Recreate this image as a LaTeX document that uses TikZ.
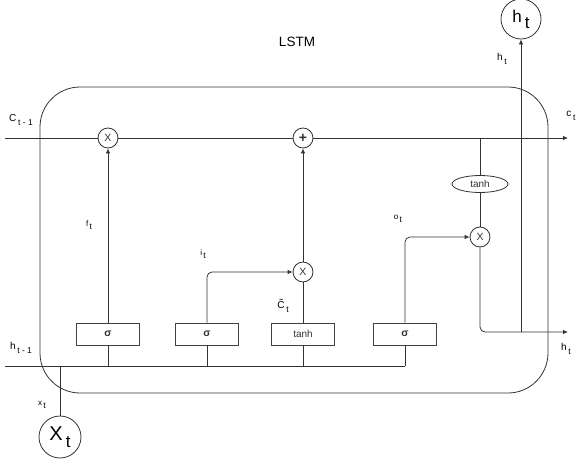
\documentclass[tikz,border=0pt]{standalone}
\usepackage{fontspec}
\setmainfont{Liberation Sans}
\usetikzlibrary{arrows.meta,shapes.geometric}
\newcommand\sublbl[2]{#1\,\raisebox{-3.5pt}{\fontsize{8.5}{9}\selectfont #2}}
\begin{document}
\begin{tikzpicture}[x=1pt,y=-1pt,line width=0.8pt,color=black!80,
  gate/.style={draw=black!75,rectangle,minimum width=63pt,minimum height=22pt,inner sep=0pt,font=\fontsize{10}{12}\selectfont},
  op/.style={draw=black!80,circle,minimum size=20pt,inner sep=0pt,font=\fontsize{10.5}{12}\selectfont,fill=white},
  lbl/.style={inner sep=0pt,text=black,font=\fontsize{10}{11}\selectfont},
  arr/.style={-{Latex[length=5pt,width=4.5pt]}}]
\useasboundingbox (0,0) rectangle (582,463);
% cell outline
\draw[rounded corners=40pt] (40,87) rectangle (548,393);
\node[text=black,font=\fontsize{13.5}{15}\selectfont] (title) at (297,42) {LSTM};
% nodes
\coordinate (cin) at (5,138);
\coordinate (cout) at (568,138);
\node[op] (fx) at (108,138) {X};
\node[op,font=\fontsize{14}{14}\selectfont\bfseries] (plus) at (303,138) {+};
\node[draw=black!80,ellipse,minimum width=56pt,minimum height=17pt,inner sep=0pt,font=\fontsize{10}{12}\selectfont,fill=white] (th) at (480,184) {tanh};
\node[op] (ox) at (480,237) {X};
\node[op] (ix) at (303,272) {X};
\node[gate,font=\fontsize{10.5}{12}\selectfont\bfseries] (g1) at (108,334) {σ};
\node[gate,font=\fontsize{10.5}{12}\selectfont\bfseries] (g2) at (207,334) {σ};
\node[gate] (g3) at (303,334) {tanh};
\node[gate,font=\fontsize{10.5}{12}\selectfont\bfseries] (g4) at (405,334) {σ};
\node[draw=black!80,circle,minimum size=40pt,inner sep=0pt,fill=white,text=black] (ht) at (521,19) {\fontsize{17}{18}\selectfont h\,\raisebox{-6pt}{\fontsize{17}{18}\selectfont t}};
\node[draw=black!80,circle,minimum size=42pt,inner sep=0pt,text=black] (xt) at (60,437) {\fontsize{20}{21}\selectfont X\,\raisebox{-7pt}{\fontsize{17}{18}\selectfont t}};
\coordinate (hin) at (5,366);
\coordinate (hend) at (405,366);
\coordinate (hout) at (568,332);
\coordinate (hsplit) at (521,332);
\coordinate (csplit) at (480,138);
\coordinate (xsplit) at (60,366);
% cell state line
\draw (cin) -- (fx.west);
\draw (fx.east) -- (plus.west);
\draw[arr] (plus.east) -- (cout);
% output branch
\draw (csplit) -- (th.north);
\draw (th.south) -- (ox.north);
\draw[arr,rounded corners=5pt] (ox.south) |- (hout);
\draw[arr] (hsplit) -- (ht.south);
% gates
\draw[arr] (g1.north) -- (fx.south);
\draw[arr,rounded corners=5pt] (g2.north) |- (ix.west);
\draw (g3.north) -- (ix.south);
\draw[arr] (ix.north) -- (plus.south);
\draw[arr,rounded corners=5pt] (g4.north) |- (ox.west);
% hidden input line
\draw (hin) -- (hend);
\draw (g1.south) -- (g1.south |- hin);
\draw (g2.south) -- (g2.south |- hin);
\draw (g3.south) -- (g3.south |- hin);
\draw (g4.south) -- (hend);
\draw (xsplit) -- (xt.north);
% labels
\node[lbl] (lc1) at (21,120) {\sublbl{C}{t - 1}};
\node[lbl] (lct) at (571,116) {\sublbl{c}{t}};
\node[lbl] (lhv) at (502,59) {\sublbl{h}{t}};
\node[lbl] (lho) at (566,349) {\sublbl{h}{t}};
\node[lbl] (lh1) at (21,348) {\sublbl{h}{t - 1}};
\node[lbl] (lxt) at (42,405) {\sublbl{\fontsize{8}{9}\selectfont x}{t}};
\node[lbl] (lft) at (89,225) {\sublbl{\fontsize{8}{9}\selectfont f}{t}};
\node[lbl] (lit) at (203,254) {\sublbl{\fontsize{8}{9}\selectfont i}{t}};
\node[lbl] (lot) at (398,219) {\sublbl{\fontsize{8}{9}\selectfont o}{t}};
\node[lbl] (lct2) at (283,306) {\sublbl{\~{C}}{t}};
\end{tikzpicture}
\end{document}
